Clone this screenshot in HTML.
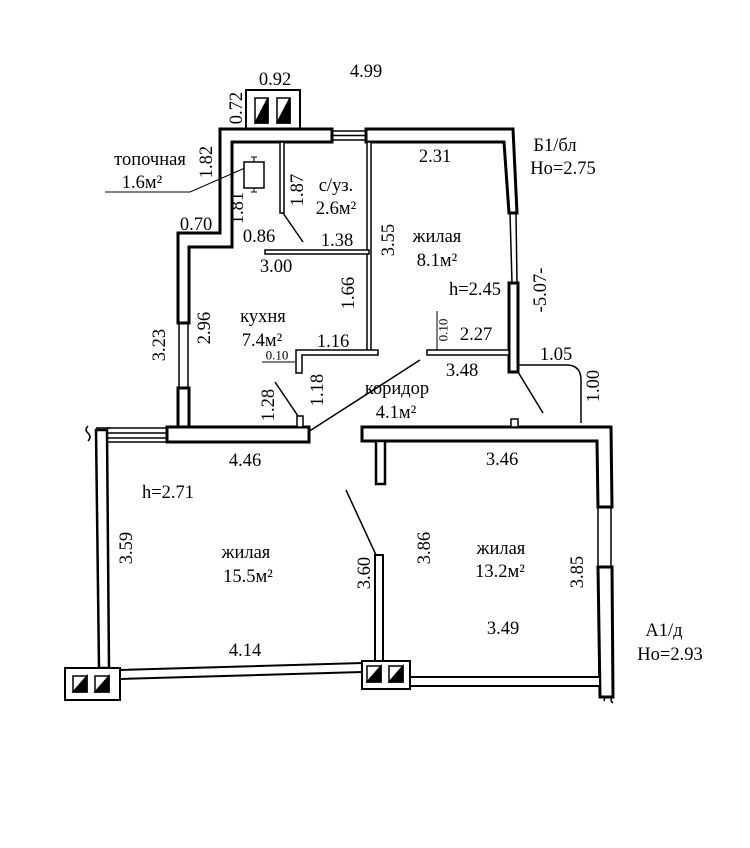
<!DOCTYPE html>
<html><head><meta charset="utf-8"><style>
html,body{margin:0;padding:0;background:#fff;}
svg{display:block;}
text{font-family:"Liberation Serif","DejaVu Serif",serif;font-size:18.5px;fill:#000;}
.s{font-size:13px;}
</style></head><body>
<svg width="750" height="848" viewBox="0 0 750 848" xmlns="http://www.w3.org/2000/svg">
<g fill="#fff" stroke="#000" stroke-width="3">
<rect x="246" y="90" width="54" height="40" stroke-width="2"/>
<polygon points="220,129 332,129 332,142 232,142 232,247 189,247 189,323 178,323 178,233 220,233"/>
<polygon points="366,129 513,129 517,213 509,213 504,142 366,142"/>
<rect x="509" y="283" width="9" height="89"/>
<rect x="178" y="388" width="11" height="39"/>
<rect x="167" y="427" width="142" height="15"/>
<polygon points="362,427 611,427 612,507 598,507 597,441 362,441"/>
<polygon points="598,567 612,567 613,697 600,697"/>
<rect x="376" y="441" width="9" height="43" stroke-width="2.5"/>
<polygon points="96,430 107,430 109,668 99,668" stroke-width="2.5"/>
<polygon points="120,670 362,663 362,672 120,679" stroke-width="2"/>
<polygon points="410,677 600,677 600,686 410,686" stroke-width="2"/>
<rect x="65" y="668" width="55" height="32" stroke-width="2"/>
<rect x="362" y="661" width="48" height="28" stroke-width="2"/>
<rect x="375" y="555" width="8" height="106" stroke-width="2"/>
<rect x="367" y="142" width="4" height="210" stroke-width="1.5"/>
<rect x="280" y="142" width="4" height="71" stroke-width="1.5"/>
<rect x="265" y="250" width="104" height="4" stroke-width="1.5"/>
<polygon points="296,350 378,350 378,355 302,355 302,373 296,373" stroke-width="1.5"/>
<rect x="427" y="350" width="82" height="5" stroke-width="1.5"/>
<rect x="297" y="416" width="6" height="11" stroke-width="1.5"/>
<rect x="511" y="419" width="7" height="8" stroke-width="1.5"/>
</g>
<g fill="none" stroke="#000" stroke-width="1.5">
<path d="M332,131 H366 M332,140 H366 M332,135.5H366"/>
<path d="M510,213 L512,283 M516,213 L517,283"/>
<path d="M179,323 V388 M188,323 V388"/>
<path d="M598,507 V567 M611,507 V567"/>
<path d="M107,428 H167 M107,442 H167 M107,433H167 M107,438H167"/>
<path d="M96,428 H110"/>
<path d="M88,426 q-4,4 0,7 q4,4 0,8" />
<path d="M600,697 q6,-2 4,4 M613,697 q-4,3 0,6"/>
<path d="M283,213 L303,242"/>
<path d="M275,382 L298,416"/>
<path d="M308,432 L420,360"/>
<path d="M518,372 L543,413"/>
<path d="M346,490 L376,555"/>
<path d="M517,365 H568 Q581,366 581,380 V423"/>
<path d="M105,192 H190 L245,168" stroke-width="1"/>
<path d="M262,362 H295" stroke-width="1"/>
<path d="M437,311 V350" stroke-width="1"/>
<rect x="244" y="162" width="20" height="26" fill="#fff"/>
<path d="M254,162 V157 M251,157 H257 M254,188 V192 M251,192 H257" stroke-width="1"/>
</g>
<g stroke="#000" stroke-width="1.5">
<rect x="255" y="98" width="13" height="25" fill="#fff"/><polygon points="255,123 268,98 268,123" fill="#000"/>
<rect x="277" y="98" width="13" height="25" fill="#fff"/><polygon points="277,123 290,98 290,123" fill="#000"/>
<rect x="73" y="676" width="14" height="16" fill="#fff"/><polygon points="73,692 87,676 87,692" fill="#000"/>
<rect x="95" y="676" width="14" height="16" fill="#fff"/><polygon points="95,692 109,676 109,692" fill="#000"/>
<rect x="367" y="666" width="14" height="16" fill="#fff"/><polygon points="367,682 381,666 381,682" fill="#000"/>
<rect x="389" y="666" width="14" height="16" fill="#fff"/><polygon points="389,682 403,666 403,682" fill="#000"/>
</g>
<g text-anchor="middle" dominant-baseline="central">
<text x="366" y="72">4.99</text>
<text x="275" y="80">0.92</text>
<text transform="translate(237,108) rotate(-90)">0.72</text>
<text x="150" y="160">топочная</text>
<text x="142" y="183">1.6м²</text>
<text transform="translate(207,162) rotate(-90)">1.82</text>
<text transform="translate(238,208) rotate(-90)">1.81</text>
<text transform="translate(298,190) rotate(-90)">1.87</text>
<text x="336" y="186">с/уз.</text>
<text x="336" y="209">2.6м²</text>
<text x="435" y="157">2.31</text>
<text x="555" y="146">Б1/бл</text>
<text x="563" y="169">Но=2.75</text>
<text x="196" y="225">0.70</text>
<text x="259" y="237">0.86</text>
<text x="337" y="241">1.38</text>
<text x="276" y="267">3.00</text>
<text transform="translate(389,240) rotate(-90)">3.55</text>
<text x="437" y="237">жилая</text>
<text x="437" y="261">8.1м²</text>
<text transform="translate(541,290) rotate(-90)">-5.07-</text>
<text x="475" y="290">h=2.45</text>
<text transform="translate(349,293) rotate(-90)">1.66</text>
<text transform="translate(160,345) rotate(-90)">3.23</text>
<text transform="translate(205,328) rotate(-90)">2.96</text>
<text x="263" y="317">кухня</text>
<text x="262" y="341">7.4м²</text>
<text x="333" y="342">1.16</text>
<text class="s" x="277" y="355">0.10</text>
<text class="s" transform="translate(443,330) rotate(-90)">0.10</text>
<text x="476" y="335">2.27</text>
<text x="462" y="371">3.48</text>
<text x="556" y="355">1.05</text>
<text transform="translate(594,386) rotate(-90)">1.00</text>
<text x="397" y="389">коридор</text>
<text x="396" y="413">4.1м²</text>
<text transform="translate(269,405) rotate(-90)">1.28</text>
<text transform="translate(318,390) rotate(-90)">1.18</text>
<text x="245" y="461">4.46</text>
<text x="502" y="460">3.46</text>
<text x="168" y="493">h=2.71</text>
<text transform="translate(127,548) rotate(-90)">3.59</text>
<text x="246" y="553">жилая</text>
<text x="248" y="577">15.5м²</text>
<text transform="translate(365,573) rotate(-90)">3.60</text>
<text transform="translate(425,548) rotate(-90)">3.86</text>
<text x="501" y="549">жилая</text>
<text x="500" y="572">13.2м²</text>
<text transform="translate(578,572) rotate(-90)">3.85</text>
<text x="503" y="629">3.49</text>
<text x="245" y="651">4.14</text>
<text x="664" y="631">А1/д</text>
<text x="670" y="655">Но=2.93</text>
</g>
</svg>
</body></html>
